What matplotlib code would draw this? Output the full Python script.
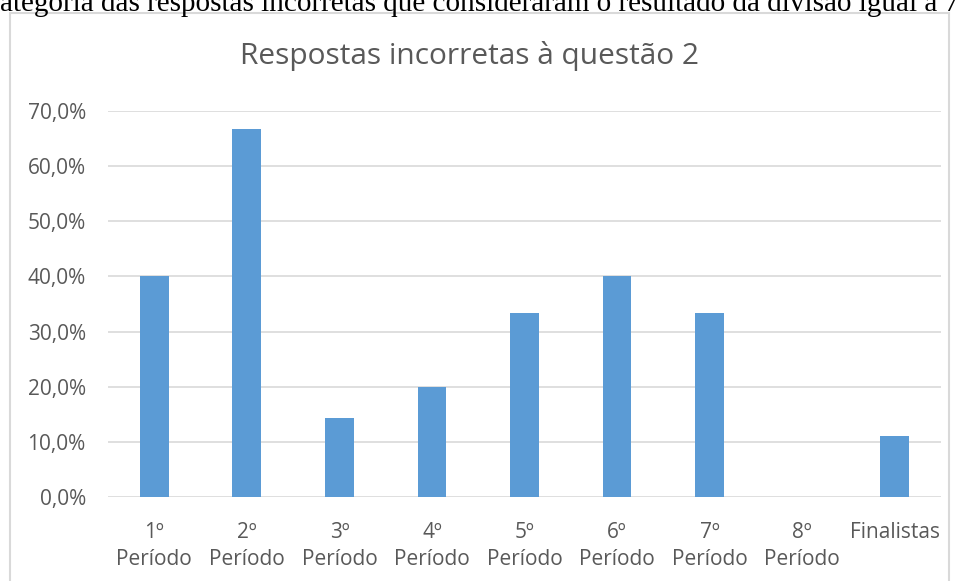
import matplotlib
matplotlib.use("Agg")
import matplotlib.pyplot as plt
from matplotlib.patches import Rectangle

categorias = ["1º\nPeríodo", "2º\nPeríodo", "3º\nPeríodo", "4º\nPeríodo", "5º\nPeríodo",
              "6º\nPeríodo", "7º\nPeríodo", "8º\nPeríodo", "Finalistas"]
valores = [40.0, 66.7, 14.3, 20.0, 33.3, 40.0, 33.3, 0.0, 11.1]
yticks = [0, 10, 20, 30, 40, 50, 60, 70]
ytick_labels = ["0,0%", "10,0%", "20,0%", "30,0%", "40,0%", "50,0%", "60,0%", "70,0%"]

cinza = "#595959"
azul = "#5B9BD5"

fig = plt.figure(figsize=(9.57, 5.81), dpi=100)

# moldura do gráfico
fig.patches.append(Rectangle((10/957, -0.1), (949-10)/957, 1.1 - 13/581,
                             transform=fig.transFigure, fill=False,
                             edgecolor="#D9D9D9", linewidth=1.5))

# texto cortado do documento acima do gráfico
fig.text(0, 1 - 11/581, "ategoria das respostas incorretas que consideraram o resultado da divisão igual a 7",
         family="Liberation Serif", fontsize=21, ha="left", va="baseline", color="black")

ax = fig.add_axes([108/957, 1 - 497/581, (941-108)/957, (497-111)/581])
x = list(range(len(categorias)))
ax.bar(x, valores, width=0.31, color=azul, zorder=3)
ax.set_xlim(-0.5, 8.5)
ax.set_ylim(0, 70)
ax.set_yticks(yticks)
ax.set_yticklabels(ytick_labels)
ax.set_xticks(x)
ax.set_xticklabels(categorias, linespacing=1.4)
ax.grid(axis="y", color="#D9D9D9", linewidth=1.2, zorder=0)
for s in ax.spines.values():
    s.set_visible(False)
ax.tick_params(length=0, colors=cinza, labelsize=15)
ax.tick_params(axis="y", pad=16)
ax.tick_params(axis="x", pad=18)
for lbl in ax.get_xticklabels() + ax.get_yticklabels():
    lbl.set_family("Open Sans")

fig.text(470/957, 1 - 64/581, "Respostas incorretas à questão 2", family="Open Sans",
         fontsize=21.5, color=cinza, ha="center", va="baseline")

fig.savefig("out.png", dpi=100)
